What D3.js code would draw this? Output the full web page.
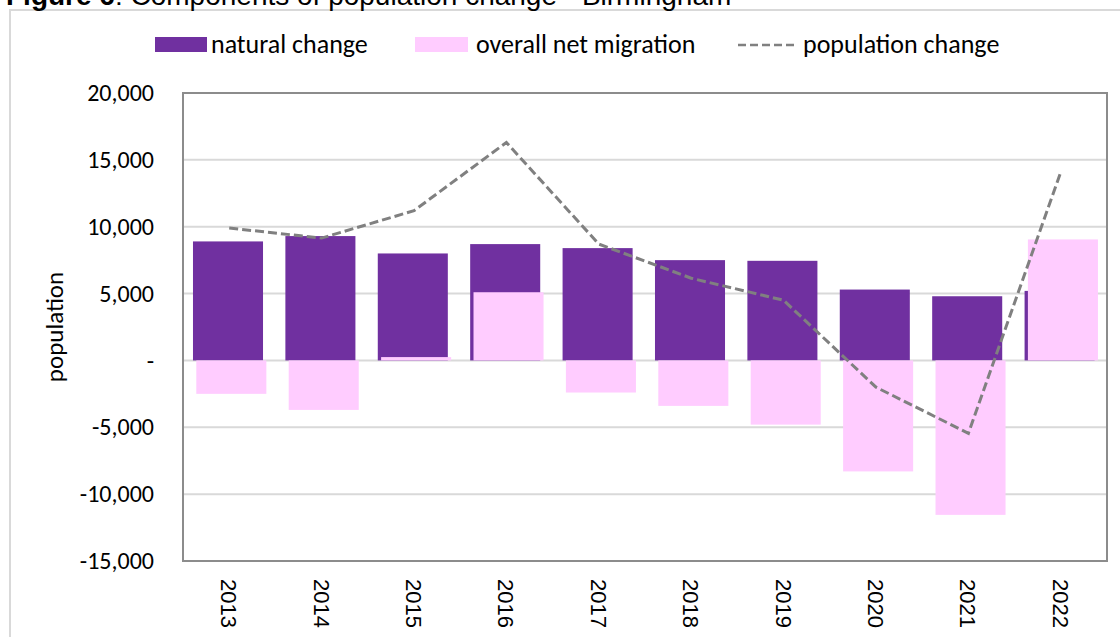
<!DOCTYPE html>
<html>
<head>
<meta charset="utf-8">
<script src="https://cdn.jsdelivr.net/npm/d3@7"></script>
<style>
  body { margin: 0; background: #fff; }
  svg { display: block; }
  .title { font-family: "Liberation Sans", Arial, sans-serif; }
  .lbl { font-family: Carlito, Calibri, Lato, sans-serif; fill: #000; }
  .yr { font-family: "Liberation Sans", Arial, sans-serif; }
</style>
</head>
<body>
<svg id="chart" width="1120" height="637"></svg>
<script>
var years = ["2013", "2014", "2015", "2016", "2017", "2018", "2019", "2020", "2021", "2022"];
var naturalChange = [8900, 9300, 8000, 8700, 8400, 7500, 7450, 5300, 4800, 5200];
var netMigration = [-2500, -3700, 250, 5100, -2400, -3400, -4800, -8300, -11550, 9050];
var populationChange = [9900, 9150, 11200, 16300, 8700, 6150, 4500, -2000, -5450, 14100];
var yTicks = [-15000, -10000, -5000, 0, 5000, 10000, 15000, 20000];

var svg = d3.select("#chart");

// chart frame (light grey, runs off the right edge)
svg.append("path")
   .attr("d", "M10,637 V10 H1120")
   .attr("fill", "none")
   .attr("stroke", "#d9d9d9")
   .attr("stroke-width", 2);

// title, cut off at top like the original
var title = svg.append("text")
   .attr("class", "title")
   .attr("x", 6)
   .attr("y", 5)
   .attr("font-size", "28px")
   .attr("fill", "#000");
title.append("tspan").attr("font-weight", "bold").text("Figure 6");
title.append("tspan").text(": Components of population change - Birmingham");

var pLeft = 183, pRight = 1107, pTop = 93, pBottom = 561;

var x = d3.scaleBand().domain(years).range([pLeft, pRight]);
var y = d3.scaleLinear().domain([-15000, 20000]).range([pBottom, pTop]);

// gridlines
svg.append("g")
   .selectAll("line")
   .data(yTicks)
   .enter().append("line")
   .attr("x1", pLeft)
   .attr("x2", pRight)
   .attr("y1", function(d) { return y(d); })
   .attr("y2", function(d) { return y(d); })
   .attr("stroke", "#d9d9d9")
   .attr("stroke-width", 2);

// y axis labels (plain hyphen for negatives, "-" for zero like Excel)
var fmt = d3.format(",");
var yAxis = svg.append("g")
   .attr("transform", "translate(" + pLeft + ",0)")
   .call(d3.axisLeft(y).tickValues(yTicks).tickSize(0).tickPadding(29)
        .tickFormat(function(d) {
            if (d === 0) return "-";
            return (d < 0 ? "-" : "") + fmt(Math.abs(d));
        }));
yAxis.select(".domain").remove();
yAxis.selectAll("text")
   .attr("class", "lbl")
   .attr("font-size", "24px")
   .attr("fill", "#000");

// y title
svg.append("text")
   .attr("class", "lbl")
   .attr("transform", "translate(63," + ((pTop + pBottom) / 2) + ") rotate(-90)")
   .attr("text-anchor", "middle")
   .attr("font-size", "25px")
   .text("population");

var bw = x.bandwidth();

// natural change bars
svg.append("g")
   .selectAll("rect")
   .data(naturalChange)
   .enter().append("rect")
   .attr("x", function(d, i) { return x(years[i]) + bw * 0.108; })
   .attr("y", function(d) { return y(Math.max(0, d)); })
   .attr("width", bw * 0.758)
   .attr("height", function(d) { return Math.abs(y(d) - y(0)); })
   .attr("fill", "#7030a0");

// migration bars (drawn on top, nudged right)
svg.append("g")
   .selectAll("rect")
   .data(netMigration)
   .enter().append("rect")
   .attr("x", function(d, i) { return x(years[i]) + bw * 0.144; })
   .attr("y", function(d) { return y(Math.max(0, d)); })
   .attr("width", bw * 0.758)
   .attr("height", function(d) { return Math.abs(y(d) - y(0)); })
   .attr("fill", "#ffccff");

// plot area border
svg.append("rect")
   .attr("x", pLeft)
   .attr("y", pTop)
   .attr("width", pRight - pLeft)
   .attr("height", pBottom - pTop)
   .attr("fill", "none")
   .attr("stroke", "#8c8c8c")
   .attr("stroke-width", 2);

// population change line
var line = d3.line()
   .x(function(d, i) { return x(years[i]) + bw / 2; })
   .y(function(d) { return y(d); });

svg.append("path")
   .datum(populationChange)
   .attr("d", line)
   .attr("fill", "none")
   .attr("stroke", "#808080")
   .attr("stroke-width", 3)
   .attr("stroke-dasharray", "9,4");

// x axis labels, rotated
svg.append("g")
   .selectAll("text")
   .data(years)
   .enter().append("text")
   .attr("class", "yr")
   .attr("transform", function(d) {
       return "translate(" + (x(d) + bw / 2 - 8) + ",579) rotate(90)";
   })
   .attr("font-size", "22px")
   .attr("fill", "#000")
   .text(function(d) { return d; });

// legend
var legend = svg.append("g");
legend.append("rect").attr("x", 155).attr("y", 37).attr("width", 52).attr("height", 15).attr("fill", "#7030a0");
legend.append("text").attr("class", "lbl").attr("x", 211).attr("y", 53).attr("font-size", "26px").text("natural change");
legend.append("rect").attr("x", 415).attr("y", 37).attr("width", 53).attr("height", 15).attr("fill", "#ffccff");
legend.append("text").attr("class", "lbl").attr("x", 476).attr("y", 53).attr("font-size", "26px").text("overall net migration");
legend.append("line").attr("x1", 738).attr("x2", 798).attr("y1", 45).attr("y2", 45)
   .attr("stroke", "#808080").attr("stroke-width", 2.5).attr("stroke-dasharray", "8,4");
legend.append("text").attr("class", "lbl").attr("x", 803).attr("y", 53).attr("font-size", "26px").text("population change");
</script>
</body>
</html>
